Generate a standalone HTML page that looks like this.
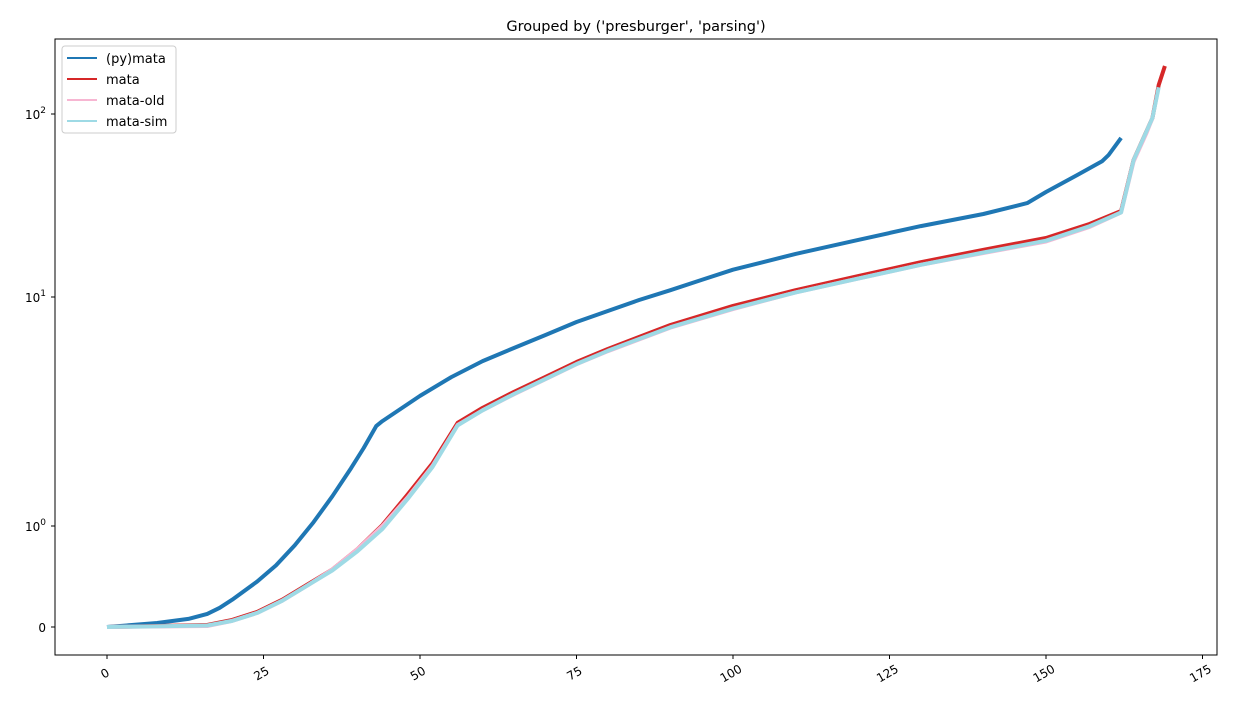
<!DOCTYPE html>
<html><head><meta charset="utf-8"><style>
body{margin:0;background:#fff;}
svg text{font-family:"DejaVu Sans","Liberation Sans",sans-serif;}
</style></head><body>
<svg id="chart" width="1237" height="710" xmlns="http://www.w3.org/2000/svg">
<rect width="1237" height="710" fill="#fff"/>
<text x="636" y="31" font-size="14.5" text-anchor="middle">Grouped by ('presburger', 'parsing')</text>
<g id="marks"></g>
<rect x="55" y="39" width="1162" height="616" fill="none" stroke="#000" stroke-width="1"/>
<g id="axes"></g>
<g>
<rect x="62" y="46" width="114" height="87" rx="3" fill="#fff" fill-opacity="0.8" stroke="#ccc"/>
<g><line x1="67" x2="97" y1="58" y2="58" stroke="#1f77b4" stroke-width="2"/><text x="106" y="63" font-size="13">(py)mata</text></g>
<g><line x1="67" x2="97" y1="79" y2="79" stroke="#d62728" stroke-width="2"/><text x="106" y="84" font-size="13">mata</text></g>
<g><line x1="67" x2="97" y1="100" y2="100" stroke="#f7b6d2" stroke-width="2"/><text x="106" y="105" font-size="13">mata-old</text></g>
<g><line x1="67" x2="97" y1="121" y2="121" stroke="#9edae5" stroke-width="2"/><text x="106" y="126" font-size="13">mata-sim</text></g>
</g>
</svg>
<script>
const pymataX=[0,8,13,16,18,20,24,27,30,33,36,39,41,43,44,50,55,60,65,70,75,80,85,90,95,100,110,120,130,140,147,150,155,159,160,162];
const pymataY=[0,0.04,0.08,0.13,0.19,0.27,0.45,0.61,0.81,1.04,1.35,1.79,2.19,2.73,2.87,3.70,4.47,5.25,5.99,6.82,7.78,8.69,9.70,10.9,12.4,14.1,17.2,20.5,24.4,28.4,32.6,37.5,46.4,55.3,59.7,74.0];
const mataX=[0,16,20,24,28,32,36,40,44,48,52,56,60,65,70,75,80,90,100,110,120,130,140,150,157,162,164,167,168,169];
const mataY=[0,0.02,0.07,0.15,0.27,0.42,0.57,0.77,1.01,1.37,1.88,2.82,3.28,3.85,4.47,5.20,5.93,7.55,9.14,10.9,13.0,15.5,18.1,21.0,25.1,29.5,56.1,95,144,183];
const oldX=[0,16,20,24,28,32,36,40,44,48,52,56,60,65,70,75,80,90,100,110,120,130,140,150,157,162,164,166,167];
const oldY=[0,0.01,0.06,0.14,0.26,0.41,0.57,0.77,1.00,1.33,1.83,2.76,3.2,3.76,4.37,5.09,5.8,7.35,8.85,10.6,12.6,15.0,17.4,20.1,24.2,29.0,55,78,95];
const simX=[0,16,20,24,28,32,36,40,44,48,52,56,60,65,70,75,80,90,100,110,120,130,140,150,157,162,164,167,168];
const simY=[0,0.015,0.06,0.14,0.26,0.41,0.56,0.75,0.97,1.31,1.81,2.75,3.2,3.77,4.38,5.1,5.82,7.38,8.9,10.6,12.6,15.0,17.5,20.3,24.4,29.0,56,95,140];
const xTicks=[0,25,50,75,100,125,150,175];
const yTicks=[0,1,10,100];
const yTickLabels=["0","10^0","10^1","10^2"];

function sx(v){return 107+v*6.26;}
function sy(v){
  if(v<=1) return 627-101*v;
  const l=Math.log10(v);
  if(l<=1) return 526-229*l;
  return 297-183*(l-1);
}
const NS="http://www.w3.org/2000/svg";
const marks=document.getElementById('marks');
function series(xs,ys,color,w,name){
  const p=document.createElementNS(NS,'polyline');
  p.setAttribute('points',xs.map((x,i)=>sx(x).toFixed(1)+','+sy(ys[i]).toFixed(1)).join(' '));
  p.setAttribute('fill','none');p.setAttribute('stroke',color);p.setAttribute('stroke-width',w);
  p.setAttribute('stroke-linejoin','round');
  
  
  marks.appendChild(p);
}
series(pymataX,pymataY,'#1f77b4',4,'pymata-line');
series(mataX,mataY,'#d62728',4,'mata-line');
series(oldX,oldY,'#f7b6d2',4,'mata-old-line');
series(simX,simY,'#9edae5',4,'mata-sim-line');

const axes=document.getElementById('axes');
xTicks.forEach(t=>{
  const x=sx(t);
  const l=document.createElementNS(NS,'line');
  l.setAttribute('x1',x);l.setAttribute('x2',x);l.setAttribute('y1',655);l.setAttribute('y2',659);l.setAttribute('stroke','#000');
  
  
  axes.appendChild(l);
  const tx=document.createElementNS(NS,'text');
  tx.setAttribute('font-size','12');tx.setAttribute('text-anchor','middle');
  tx.setAttribute('transform','translate('+x+',677) rotate(-30)');
  tx.textContent=t;
  
  
  axes.appendChild(tx);
});
yTicks.forEach((t,i)=>{
  const y=sy(t);
  const l=document.createElementNS(NS,'line');
  l.setAttribute('x1',51);l.setAttribute('x2',55);l.setAttribute('y1',y);l.setAttribute('y2',y);l.setAttribute('stroke','#000');
  
  
  axes.appendChild(l);
  const tx=document.createElementNS(NS,'text');
  tx.setAttribute('font-size','12');tx.setAttribute('text-anchor','end');
  tx.setAttribute('x',46);tx.setAttribute('y',y+5);
  const lab=yTickLabels[i];
  if(lab.indexOf('^')>=0){
    const parts=lab.split('^');
    tx.textContent=parts[0];
    const sup=document.createElementNS(NS,'tspan');
    sup.setAttribute('font-size','9');sup.setAttribute('dy','-6');
    sup.textContent=parts[1];
    tx.appendChild(sup);
  } else tx.textContent=lab;
  
  
  axes.appendChild(tx);
});
</script>
</body></html>
